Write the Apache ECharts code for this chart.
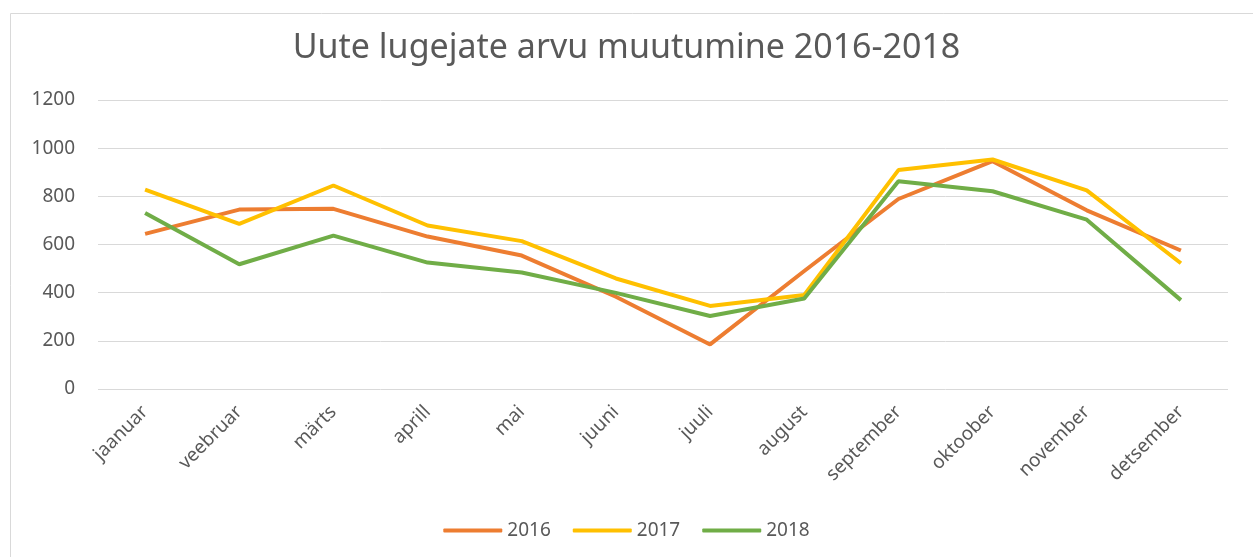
<!DOCTYPE html>
<html>
<head>
<meta charset="utf-8">
<script src="https://cdn.jsdelivr.net/npm/echarts@6/dist/echarts.min.js"></script>
<style>
  html, body { margin: 0; padding: 0; background: #fff; }
  #main { width: 1253px; height: 557px; }
</style>
</head>
<body>
<div id="main"></div>
<script>
// kuud
var months = ['jaanuar', 'veebruar', 'märts', 'aprill', 'mai', 'juuni', 'juuli', 'august', 'september', 'oktoober', 'november', 'detsember'];
// uued lugejad aastate kaupa
var y2016 = [644, 745, 748, 633, 554, 383, 185, 490, 789, 946, 742, 575];
var y2017 = [828, 686, 845, 679, 614, 459, 345, 390, 909, 953, 825, 522];
var y2018 = [731, 518, 637, 525, 484, 399, 303, 376, 863, 821, 703, 369];
var years = ['2016', '2017', '2018'];
var yTicks = [0, 200, 400, 600, 800, 1000, 1200];

var txt = '#595959';
var font = 'Noto Sans';

var myChart = echarts.init(document.getElementById('main'));
var option = {
  animation: false,
  color: ['#ED7D31', '#FFC000', '#70AD47'],
  graphic: [{
    type: 'rect',
    left: 8, top: 11,
    shape: { width: 1260, height: 560 },
    style: { fill: 'none', stroke: '#D9D9D9', lineWidth: 1 },
    silent: true
  }],
  title: {
    text: 'Uute lugejate arvu muutumine 2016-2018',
    left: 'center',
    top: 26,
    textStyle: { color: txt, fontFamily: font, fontSize: 34, fontWeight: 'normal' }
  },
  legend: {
    data: years,
    top: 516,
    left: 'center',
    icon: 'roundRect',
    itemWidth: 59,
    itemHeight: 4,
    itemGap: 22,
    textStyle: { color: txt, fontFamily: font, fontSize: 19 }
  },
  grid: { left: 98, right: 25, top: 100, bottom: 168, containLabel: false },
  xAxis: {
    type: 'category',
    data: months,
    boundaryGap: true,
    axisLine: { show: false },
    axisTick: { show: false },
    axisLabel: { rotate: 45, color: txt, fontFamily: font, fontSize: 19, margin: 20 }
  },
  yAxis: {
    type: 'value',
    min: yTicks[0],
    max: yTicks[yTicks.length - 1],
    interval: 200,
    axisLine: { show: false },
    axisTick: { show: false },
    axisLabel: {
      color: txt, fontFamily: font, fontSize: 19, margin: 23,
      formatter: function (v) { return String(v); }
    },
    splitLine: { lineStyle: { color: '#D9D9D9', width: 1 } }
  },
  series: [
    { name: years[0], type: 'line', data: y2016, showSymbol: false, lineStyle: { width: 4 } },
    { name: years[1], type: 'line', data: y2017, showSymbol: false, lineStyle: { width: 4 } },
    { name: years[2], type: 'line', data: y2018, showSymbol: false, lineStyle: { width: 4 } }
  ]
};
myChart.setOption(option);
</script>
</body>
</html>
